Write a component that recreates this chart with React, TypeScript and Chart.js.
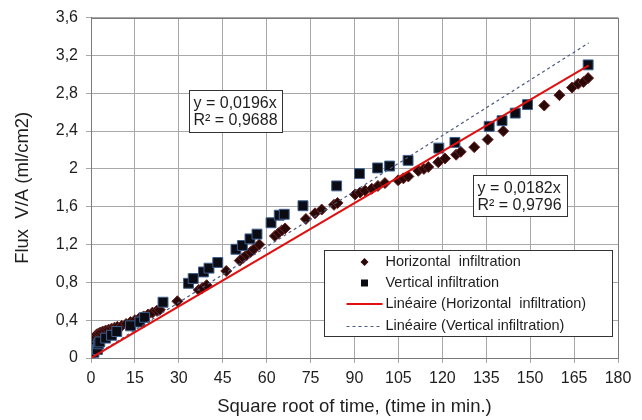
import React, { useEffect, useRef } from "react";
import { Chart, registerables } from "chart.js";

Chart.register(...registerables);

// ---- data ----
const horizontalX = [0.3, 0.6, 1, 1.5, 2, 2.6, 3.2, 4, 5, 6, 7, 8, 9, 10.5, 12, 13.5, 15, 16.5, 18, 19.5, 21, 22.5, 23.5, 29.5, 36.8, 38, 39.5, 46.2, 50.8, 52, 53.2, 54.5, 55.6, 57.5, 62.8, 64, 65.2, 66.3, 73.4, 76.5, 78.8, 83, 84.2, 90.2, 91.9, 93.6, 95.9, 98, 100.4, 104.9, 106.7, 108.4, 111.8, 113.7, 115.2, 118.6, 120.9, 124.7, 126.3, 130.9, 135.5, 140.8, 154.8, 160, 164.3, 166.4, 168.2, 169.8];
const horizontalY = [0.12, 0.18, 0.21, 0.23, 0.25, 0.26, 0.27, 0.28, 0.29, 0.3, 0.31, 0.32, 0.33, 0.34, 0.36, 0.38, 0.4, 0.42, 0.44, 0.46, 0.48, 0.5, 0.51, 0.6, 0.72, 0.74, 0.77, 0.92, 1.03, 1.06, 1.09, 1.12, 1.15, 1.2, 1.29, 1.32, 1.35, 1.37, 1.47, 1.53, 1.57, 1.62, 1.64, 1.73, 1.75, 1.77, 1.79, 1.82, 1.85, 1.88, 1.9, 1.92, 1.98, 2.0, 2.02, 2.07, 2.11, 2.15, 2.18, 2.23, 2.31, 2.4, 2.67, 2.78, 2.86, 2.9, 2.92, 2.96];

const verticalX = [0, 1, 1.9, 2.2, 2.6, 3, 5, 7, 8.8, 13.5, 16.7, 18.3, 24.6, 33.3, 34.9, 38.4, 40.3, 43.3, 49.5, 51.7, 54.3, 56.7, 61.5, 64.3, 66, 72.4, 83.9, 91.7, 97.9, 102, 108.3, 118.8, 124.3, 136, 140.4, 144.9, 149.1, 169.8];
const verticalY = [0, 0.06, 0.12, 0.09, 0.15, 0.17, 0.21, 0.24, 0.28, 0.34, 0.38, 0.43, 0.59, 0.79, 0.84, 0.91, 0.95, 1.01, 1.15, 1.19, 1.26, 1.31, 1.43, 1.51, 1.52, 1.61, 1.82, 1.95, 2.01, 2.03, 2.09, 2.22, 2.28, 2.45, 2.51, 2.59, 2.68, 3.1];

const trendX = [0, 170];
const trendHorizontalY = [0, 3.094];
const trendVerticalY = [0, 3.332];

const xTickValues = [0, 15, 30, 45, 60, 75, 90, 105, 120, 135, 150, 165, 180];
const yTickValues = [0, 0.4, 0.8, 1.2, 1.6, 2, 2.4, 2.8, 3.2, 3.6];
const yTickLabels = ["0", "0,4", "0,8", "1,2", "1,6", "2", "2,4", "2,8", "3,2", "3,6"];

const seriesLabels = [
  "Horizontal  infiltration",
  "Vertical infiltration",
  "Linéaire (Horizontal  infiltration)",
  "Linéaire (Vertical infiltration)",
];
const equationVertical = ["y = 0,0196x", "R² = 0,9688"];
const equationHorizontal = ["y = 0,0182x", "R² = 0,9796"];
const xTitle = "Square root of time, (time in min.)";
const yTitle = "Flux  V/A (ml/cm2)";

const FONT = "'Liberation Sans', Arial, sans-serif";
const TEXT = "#1e1e1e";

const zip = (xs: number[], ys: number[]) => xs.map((x, i) => ({ x, y: ys[i] }));

const overlayPlugin = {
  id: "overlay",
  afterDatasetsDraw(chart: any) {
    const { ctx, chartArea, scales } = chart;
    const xs = scales.x;
    const ys = scales.y;
    ctx.save();
    // plot border
    ctx.strokeStyle = "#7a7a7a";
    ctx.lineWidth = 1;
    ctx.strokeRect(
      Math.round(chartArea.left) + 0.5,
      Math.round(chartArea.top) + 0.5,
      Math.round(chartArea.right - chartArea.left),
      Math.round(chartArea.bottom - chartArea.top)
    );

    const box = (lx: number, ty: number, w: number, h: number, lines: string[]) => {
      const px = Math.round(xs.getPixelForValue(lx)) + 0.5;
      const py = Math.round(ys.getPixelForValue(ty)) + 0.5;
      ctx.fillStyle = "#ffffff";
      ctx.fillRect(px, py, w, h);
      ctx.strokeStyle = "#333";
      ctx.lineWidth = 1;
      ctx.strokeRect(px, py, w, h);
      ctx.fillStyle = TEXT;
      ctx.font = `16px ${FONT}`;
      ctx.textAlign = "left";
      ctx.textBaseline = "middle";
      lines.forEach((t, i) => ctx.fillText(t, px + 4, py + 13 + i * 17.5));
    };
    box(33.5, 2.83, 93, 42, equationVertical);
    box(130.4, 1.94, 94, 41, equationHorizontal);

    // legend
    const lx = Math.round(xs.getPixelForValue(79.6)) + 0.5;
    const ly = Math.round(ys.getPixelForValue(1.144)) + 0.5;
    const lw = 288;
    const lh = 86;
    ctx.fillStyle = "#ffffff";
    ctx.fillRect(lx, ly, lw, lh);
    ctx.strokeStyle = "#333";
    ctx.strokeRect(lx, ly, lw, lh);
    const rows = [11.5, 32.5, 53.5, 75.5];
    const symX = lx + 40;
    const textX = lx + 61;
    ctx.font = `14.5px ${FONT}`;
    ctx.textBaseline = "middle";
    ctx.textAlign = "left";
    rows.forEach((r, i) => {
      const y = ly + r;
      if (i === 0) {
        ctx.fillStyle = "#2a0808";
        ctx.beginPath();
        ctx.moveTo(symX, y - 4);
        ctx.lineTo(symX + 4, y);
        ctx.lineTo(symX, y + 4);
        ctx.lineTo(symX - 4, y);
        ctx.closePath();
        ctx.fill();
      } else if (i === 1) {
        ctx.fillStyle = "#0b0b14";
        ctx.fillRect(symX - 3.5, y - 3.5, 7, 7);
      } else if (i === 2) {
        ctx.strokeStyle = "#e01010";
        ctx.lineWidth = 2;
        ctx.setLineDash([]);
        ctx.beginPath();
        ctx.moveTo(lx + 22, y);
        ctx.lineTo(lx + 58, y);
        ctx.stroke();
      } else {
        ctx.strokeStyle = "#4a5a80";
        ctx.lineWidth = 1;
        ctx.setLineDash([3, 3]);
        ctx.beginPath();
        ctx.moveTo(lx + 22, y + 0.5);
        ctx.lineTo(lx + 56, y + 0.5);
        ctx.stroke();
        ctx.setLineDash([]);
      }
      ctx.fillStyle = TEXT;
      ctx.fillText(seriesLabels[i], textX, y);
    });
    ctx.restore();
  },
};

export default function App() {
  const ref = useRef<HTMLCanvasElement | null>(null);
  useEffect(() => {
    if (!ref.current) return;
    const chart = new Chart(ref.current, {
      type: "scatter",
      data: {
        datasets: [
          {
            label: seriesLabels[0],
            data: zip(horizontalX, horizontalY),
            pointStyle: "rectRot",
            pointRadius: 5.5,
            backgroundColor: "#2a0808",
            borderColor: "#6b2424",
            borderWidth: 1,
            order: 2,
          },
          {
            label: seriesLabels[1],
            data: zip(verticalX, verticalY),
            pointStyle: "rect",
            pointRadius: 7,
            backgroundColor: "#0b0b14",
            borderColor: "#3d5f8f",
            borderWidth: 1,
            order: 1,
          },
          {
            label: seriesLabels[2],
            data: zip(trendX, trendHorizontalY),
            showLine: true,
            pointRadius: 0,
            borderColor: "#e01010",
            borderWidth: 2,
            order: 0,
          },
          {
            label: seriesLabels[3],
            data: zip(trendX, trendVerticalY),
            showLine: true,
            pointRadius: 0,
            borderColor: "#4a5a80",
            borderWidth: 1.2,
            borderDash: [3, 3],
            order: 0,
          },
        ],
      } as any,
      options: {
        animation: false,
        responsive: true,
        maintainAspectRatio: false,
        events: [],
        layout: { padding: { top: 16, right: 24, left: 0, bottom: 0 } },
        plugins: { legend: { display: false }, tooltip: { enabled: false } },
        scales: {
          x: {
            type: "linear",
            min: 0,
            max: 180,
            afterBuildTicks: (s: any) => {
              s.ticks = xTickValues.map((v) => ({ value: v }));
            },
            afterFit: (s: any) => {
              s.height = 62;
            },
            ticks: {
              font: { family: FONT, size: 16 },
              color: TEXT,
              padding: 6,
              maxRotation: 0,
              autoSkip: false,
            },
            grid: { color: "#a8a8a8", tickLength: 5, lineWidth: 1 },
            border: { color: "#7a7a7a" },
            title: {
              display: true,
              text: xTitle,
              font: { family: FONT, size: 18.5 },
              color: TEXT,
              padding: { top: 0, bottom: 2 },
            },
          },
          y: {
            type: "linear",
            min: 0,
            max: 3.6,
            afterBuildTicks: (s: any) => {
              s.ticks = yTickValues.map((v) => ({ value: v }));
            },
            afterFit: (s: any) => {
              s.width = 91;
            },
            ticks: {
              font: { family: FONT, size: 16 },
              color: TEXT,
              padding: 8,
              autoSkip: false,
              callback: (_v: any, i: number) => yTickLabels[i],
            },
            grid: { color: "#a8a8a8", tickLength: 5, lineWidth: 1 },
            border: { color: "#7a7a7a" },
            title: {
              display: true,
              text: yTitle,
              font: { family: FONT, size: 18.5 },
              color: TEXT,
              padding: { top: 12, bottom: 0 },
            },
          },
        },
      } as any,
      plugins: [overlayPlugin],
    });
    return () => chart.destroy();
  }, []);
  return (
    <div style={{ position: "fixed", left: 0, top: 0, width: 642, height: 420, background: "#fff" }}>
      <canvas ref={ref} />
    </div>
  );
}
